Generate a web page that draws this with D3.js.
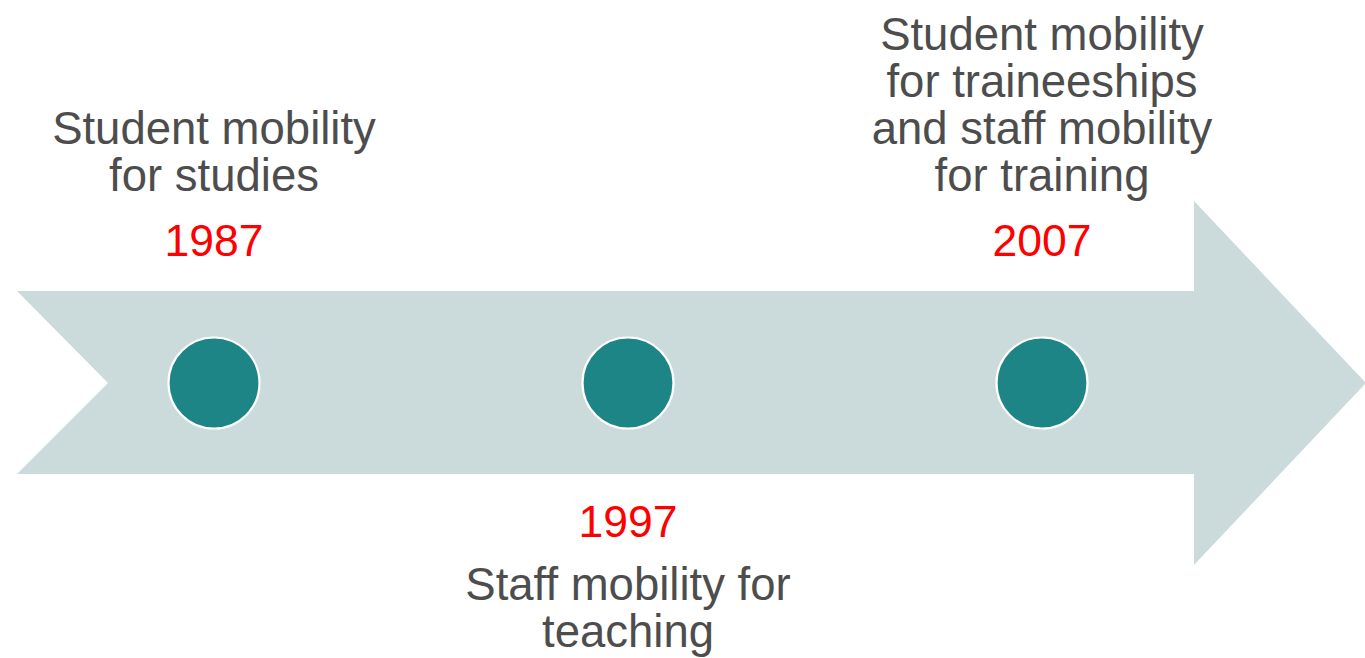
<!DOCTYPE html>
<html><head><meta charset="utf-8">
<script src="https://cdn.jsdelivr.net/npm/d3@7"></script>
<style>html,body{margin:0;padding:0;background:#fff;overflow:hidden}</style>
</head><body>
<script>
const years = [1987, 1997, 2007];
const labels = [
  ["Student mobility", "for studies"],
  ["Staff mobility for", "teaching"],
  ["Student mobility", "for traineeships", "and staff mobility", "for training"]
];
const sides = ["top", "bottom", "top"];

const W = 1365, H = 658;
const svg = d3.select("body").append("svg").attr("width", W).attr("height", H);

const x = d3.scaleLinear().domain([1987, 2007]).range([214, 1042]);
const cy = 383;

// arrow
const arrow = [[17,291],[1194,291],[1194,201],[1366,383],[1194,565],[1194,474],[17,474],[108,383]];
svg.append("path").attr("d", d3.line()(arrow) + "Z").attr("fill", "#cbdadb");

// circles
svg.selectAll("circle.dot").data(years).join("circle")
  .attr("cx", d => x(d)).attr("cy", cy).attr("r", 45.5)
  .attr("fill", "#1e8587").attr("stroke", "#fff").attr("stroke-width", 2.2);

const font = "'Liberation Sans', Arial, sans-serif";
const fsY = 44.5, fs = 45.5, lh = 47;

years.forEach((yr, i) => {
  const cx = x(yr);
  const lines = labels[i];
  if (sides[i] === "top") {
    svg.append("text").attr("x", cx).attr("y", 256).attr("text-anchor", "middle")
      .attr("font-family", font).attr("font-size", fsY).attr("fill", "#ff0000").text(yr);
    const lastBase = 191;
    lines.forEach((t, j) => {
      svg.append("text").attr("x", cx).attr("y", lastBase - (lines.length - 1 - j) * lh)
        .attr("text-anchor", "middle").attr("font-family", font).attr("font-size", fs)
        .attr("fill", "#4d4d4d").text(t);
    });
  } else {
    svg.append("text").attr("x", cx).attr("y", 537).attr("text-anchor", "middle")
      .attr("font-family", font).attr("font-size", fsY).attr("fill", "#ff0000").text(yr);
    lines.forEach((t, j) => {
      svg.append("text").attr("x", cx).attr("y", 600 + j * lh)
        .attr("text-anchor", "middle").attr("font-family", font).attr("font-size", fs)
        .attr("fill", "#4d4d4d").text(t);
    });
  }
});
</script>
</body></html>
